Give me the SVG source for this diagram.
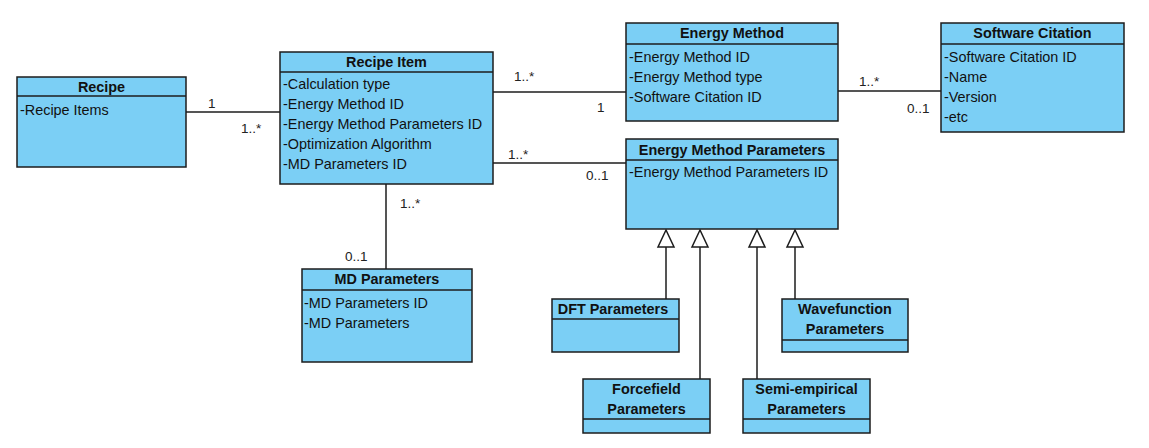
<svg xmlns="http://www.w3.org/2000/svg" width="1149" height="448" viewBox="0 0 1149 448">
<style>
.box{fill:#7BCFF5;stroke:#1c1c1c;stroke-width:1.5}
.sep{stroke:#1c1c1c;stroke-width:1.5}
.t{font-family:"Liberation Sans",Arial,sans-serif;font-size:14.4px;font-weight:bold;fill:#111;text-anchor:middle}
.a{font-family:"Liberation Sans",Arial,sans-serif;font-size:14.4px;fill:#111}
.m{font-family:"Liberation Sans",Arial,sans-serif;font-size:13.5px;fill:#222}
.c{stroke:#1c1c1c;stroke-width:1.5;fill:none}
.tri{fill:#fff;stroke:#1c1c1c;stroke-width:1.5}
</style>
<rect width="1149" height="448" fill="#fff"/>
<g id="connectors">
<line class="c" x1="186" y1="112" x2="280" y2="112"/>
<line class="c" x1="493" y1="92" x2="626" y2="92"/>
<line class="c" x1="493" y1="163" x2="626" y2="163"/>
<line class="c" x1="838" y1="91" x2="941" y2="91"/>
<line class="c" x1="386" y1="184" x2="386" y2="269"/>
<line class="c" x1="666" y1="247" x2="666" y2="299"/>
<line class="c" x1="700" y1="247" x2="700" y2="379"/>
<line class="c" x1="757" y1="247" x2="757" y2="379"/>
<line class="c" x1="795" y1="247" x2="795" y2="299"/>
<polygon class="tri" points="666,230 658,247 674,247"/>
<polygon class="tri" points="700,230 692,247 708,247"/>
<polygon class="tri" points="757,230 749,247 765,247"/>
<polygon class="tri" points="795,230 787,247 803,247"/>
<text class="m" x="208" y="108">1</text>
<text class="m" x="241" y="133">1..*</text>
<text class="m" x="514" y="81">1..*</text>
<text class="m" x="597" y="112">1</text>
<text class="m" x="508" y="159">1..*</text>
<text class="m" x="586" y="180">0..1</text>
<text class="m" x="859" y="86">1..*</text>
<text class="m" x="907" y="113">0..1</text>
<text class="m" x="400" y="208">1..*</text>
<text class="m" x="345" y="261">0..1</text>
</g>
<g id="recipe">
<rect class="box" x="17" y="77" width="169" height="90"/>
<line class="sep" x1="17" y1="96" x2="186" y2="96"/>
<text class="t" x="101.5" y="92">Recipe</text>
<text class="a" x="20" y="115">-Recipe Items</text>
</g>
<g id="recipe-item">
<rect class="box" x="280" y="52" width="213" height="132"/>
<line class="sep" x1="280" y1="72" x2="493" y2="72"/>
<text class="t" x="386.5" y="67">Recipe Item</text>
<text class="a" x="283" y="89">-Calculation type</text>
<text class="a" x="283" y="109">-Energy Method ID</text>
<text class="a" x="283" y="129">-Energy Method Parameters ID</text>
<text class="a" x="283" y="149">-Optimization Algorithm</text>
<text class="a" x="283" y="169">-MD Parameters ID</text>
</g>
<g id="energy-method">
<rect class="box" x="626" y="23" width="212" height="98"/>
<line class="sep" x1="626" y1="44" x2="838" y2="44"/>
<text class="t" x="732" y="38">Energy Method</text>
<text class="a" x="629" y="62">-Energy Method ID</text>
<text class="a" x="629" y="82">-Energy Method type</text>
<text class="a" x="629" y="102">-Software Citation ID</text>
</g>
<g id="software-citation">
<rect class="box" x="941" y="23" width="183" height="109"/>
<line class="sep" x1="941" y1="44" x2="1124" y2="44"/>
<text class="t" x="1032.5" y="38">Software Citation</text>
<text class="a" x="944" y="62">-Software Citation ID</text>
<text class="a" x="944" y="82">-Name</text>
<text class="a" x="944" y="102">-Version</text>
<text class="a" x="944" y="122">-etc</text>
</g>
<g id="energy-method-parameters">
<rect class="box" x="626" y="139" width="212" height="90"/>
<line class="sep" x1="626" y1="160" x2="838" y2="160"/>
<text class="t" x="732" y="155">Energy Method Parameters</text>
<text class="a" x="629" y="177">-Energy Method Parameters ID</text>
</g>
<g id="md-parameters">
<rect class="box" x="302" y="269" width="170" height="93"/>
<line class="sep" x1="302" y1="290" x2="472" y2="290"/>
<text class="t" x="387" y="284">MD Parameters</text>
<text class="a" x="304" y="308">-MD Parameters ID</text>
<text class="a" x="304" y="328">-MD Parameters</text>
</g>
<g id="dft-parameters">
<rect class="box" x="552" y="299" width="127" height="53"/>
<line class="sep" x1="552" y1="319" x2="679" y2="319"/>
<text class="t" x="613" y="314">DFT Parameters</text>
</g>
<g id="wavefunction-parameters">
<rect class="box" x="782" y="299" width="126" height="53"/>
<line class="sep" x1="782" y1="340" x2="908" y2="340"/>
<text class="t" x="845" y="314">Wavefunction</text>
<text class="t" x="845" y="334">Parameters</text>
</g>
<g id="forcefield-parameters">
<rect class="box" x="583" y="379" width="127" height="54"/>
<line class="sep" x1="583" y1="419" x2="710" y2="419"/>
<text class="t" x="646.5" y="394">Forcefield</text>
<text class="t" x="646.5" y="414">Parameters</text>
</g>
<g id="semi-empirical-parameters">
<rect class="box" x="743" y="379" width="127" height="54"/>
<line class="sep" x1="743" y1="419" x2="870" y2="419"/>
<text class="t" x="806.5" y="394">Semi-empirical</text>
<text class="t" x="806.5" y="414">Parameters</text>
</g>
</svg>
